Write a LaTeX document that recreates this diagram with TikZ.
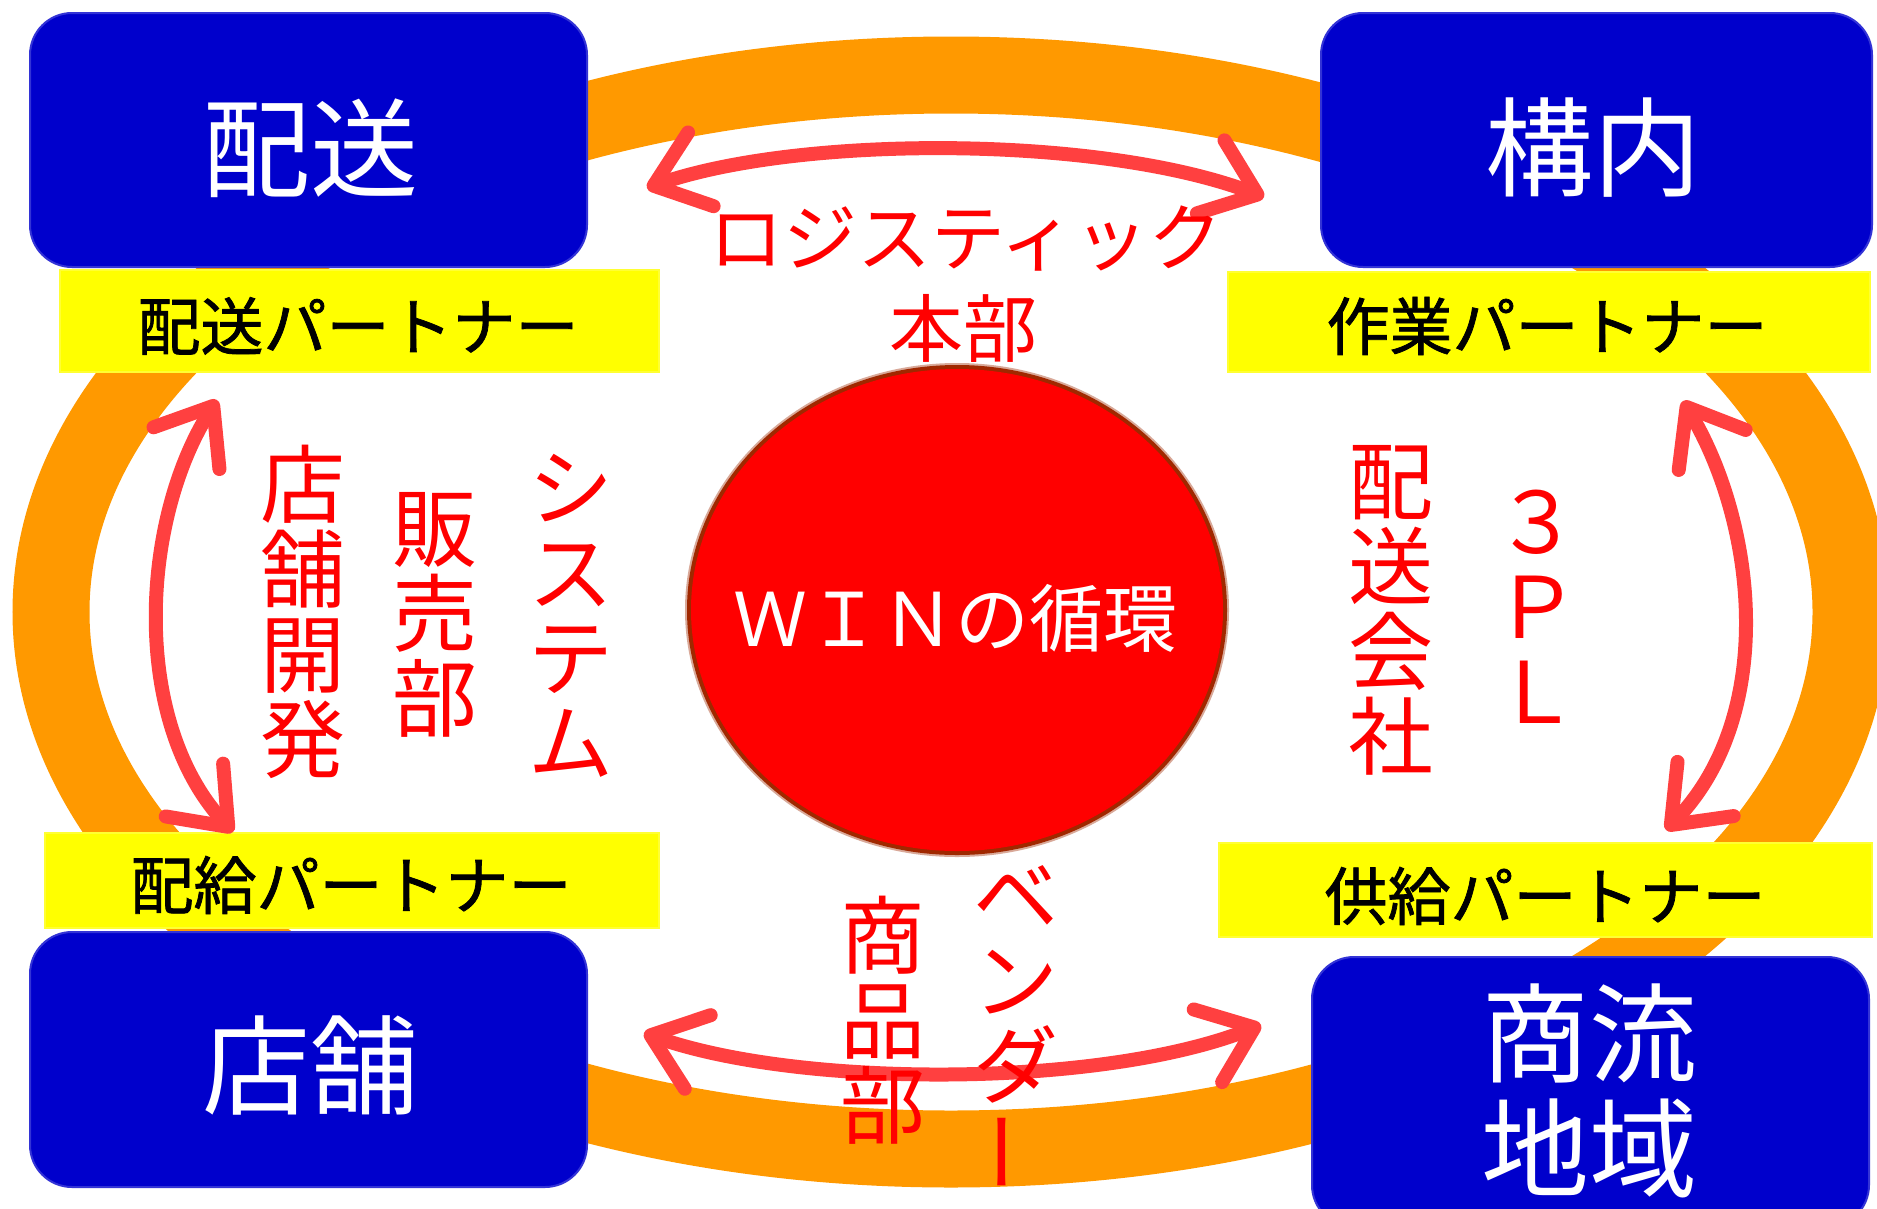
\documentclass[tikz,border=0pt]{standalone}
\usepackage{fontspec}
\usepackage{graphicx}
\usetikzlibrary{arrows.meta}
\newfontfamily\jp{Noto Sans CJK JP}
\newfontfamily\jpbold[FakeBold=1.2]{Noto Sans CJK JP}
\newcommand\vertfont{\jp\fontsize{85}{85}\selectfont}
\definecolor{boxblue}{RGB}{0,0,204}
\definecolor{ringorange}{RGB}{255,153,0}
\definecolor{arrowred}{RGB}{255,64,64}
\definecolor{textred}{RGB}{255,0,0}
\definecolor{rimred}{RGB}{160,40,0}
\definecolor{partyellow}{RGB}{255,255,0}
\begin{document}
\begin{tikzpicture}[x=1pt,y=-1pt,
  bluebox/.style={fill=boxblue, draw=boxblue!80!white, line width=2pt, rounded corners=42pt, inner sep=0},
  yellowbox/.style={fill=partyellow, draw=partyellow!80!white, line width=2pt, inner sep=0},
  ring/.style={draw=ringorange, line width=77pt},
  redarrow/.style={draw=arrowred, line width=14pt, line cap=round,
    {Straight Barb[round, length=50pt, width=78pt]}-{Straight Barb[round, length=50pt, width=78pt]}},
  boxlabel/.style={text=white, font=\jp\fontsize{108}{108}\selectfont, inner sep=0},
  partlabel/.style={text=black, font=\jpbold\fontsize{63}{63}\selectfont, inner sep=0},
  redlabel/.style={text=textred, font=\jp\fontsize{74}{74}\selectfont, inner sep=0},
  vlabel/.style={text=textred, font=\vertfont, align=center, inner sep=0},
  winlabel/.style={text=white, font=\jp\fontsize{74}{74}\selectfont, inner sep=0}]
\useasboundingbox (0,0) rectangle (1877,1208);
\clip (0,0) rectangle (1877,1208);
\fill[white] (0,0) rectangle (1877,1208);

% orange cycle ring
\draw[ring] (951,612) ellipse [x radius=900pt, y radius=537pt];

% partner boxes
\node[yellowbox, minimum width=599pt, minimum height=102pt] (p1) at (359.5,321) {};
\node[yellowbox, minimum width=642pt, minimum height=100pt] (p2) at (1549,322) {};
\node[yellowbox, minimum width=614pt, minimum height=95pt] (p3) at (352,880.5) {};
\node[yellowbox, minimum width=653pt, minimum height=94pt] (p4) at (1545.5,890) {};

% blue boxes
\node[bluebox, minimum width=557pt, minimum height=254pt] (haiso) at (308.5,140) {};
\node[bluebox, minimum width=551pt, minimum height=254pt] (kounai) at (1596.5,140) {};
\node[bluebox, minimum width=557pt, minimum height=255pt] (tenpo) at (308.5,1059.5) {};
\node[bluebox, minimum width=557pt, minimum height=270pt] (shoryu) at (1590.5,1092) {};

% central circle with dark soft rim
\fill[rimred!40!white] (957,610) ellipse [x radius=272pt, y radius=247pt];
\fill[rimred] (957,610) ellipse [x radius=270pt, y radius=245pt];
\fill[textred] (957,610) ellipse [x radius=266pt, y radius=241pt];
\node[winlabel] (win) at (955,618) {ＷＩＮの循環};

% box labels
\node[boxlabel] (haisoT) at (310,148) {配送};
\node[boxlabel] (kounaiT) at (1593,148) {構内};
\node[boxlabel] (tenpoT) at (310,1065) {店舗};
\node[boxlabel] (shoryuT1) at (1589,1033) {商流};
\node[boxlabel] (shoryuT2) at (1589,1148) {地域};

% partner labels
\node[partlabel] (p1T) at (358,326) {配送パートナー};
\node[partlabel] (p2T) at (1547,326) {作業パートナー};
\node[partlabel] (p3T) at (351,885) {配給パートナー};
\node[partlabel] (p4T) at (1545,896) {供給パートナー};

% double arrows
\coordinate (t1) at (647,188);
\coordinate (t2) at (1264,197);
\coordinate (b1) at (644,1033);
\coordinate (b2) at (1261,1025);
\coordinate (l1) at (217,400);
\coordinate (l2) at (233,832);
\coordinate (r1) at (1683,401);
\coordinate (r2) at (1666,830);
\draw[redarrow] (t1) .. controls (800,135) and (1100,135) .. (t2);
\draw[redarrow] (b1) .. controls (800,1088) and (1100,1088) .. (b2);
\draw[redarrow] (l1) .. controls (141,520) and (130,720) .. (l2);
\draw[redarrow] (r1) .. controls (1757,525) and (1777,715) .. (r2);

% red labels
\node[redlabel] (logi) at (966,239) {ロジスティック};
\node[redlabel] (honbu) at (963,328) {本部};
\node[vlabel] (tenkai) at (303,612) {店\\舗\\開\\発};
\node[vlabel] (hanbai) at (435,615) {販\\売\\部};
\node[vlabel] (system) at (571,616) {シ\\ス\\テ\\ム};
\node[vlabel] (haisokaisha) at (1391,610) {配\\送\\会\\社};
\node[vlabel] (threepl) at (1537,607) {３\\Ｐ\\Ｌ};
\node[vlabel] (shohin) at (883,1020) {商\\品\\部};
\node[vlabel] (vendor) at (1016,1030) {ベ\\ン\\ダ\\\raisebox{12pt}{\rotatebox[origin=c]{90}{ー}}};
\end{tikzpicture}
\end{document}
